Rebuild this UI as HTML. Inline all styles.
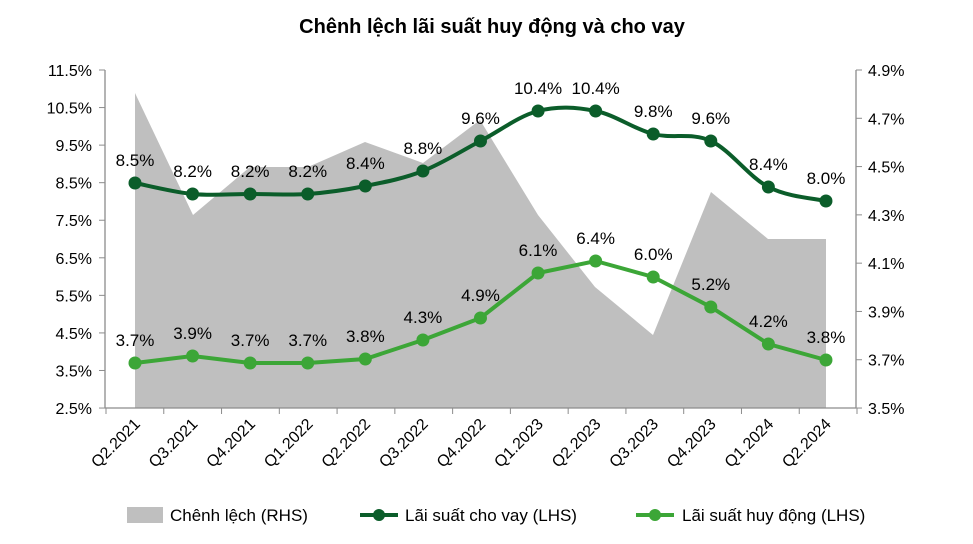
<!DOCTYPE html>
<html><head><meta charset="utf-8"><style>
body{margin:0;background:#fff;width:973px;height:539px;overflow:hidden}
svg text{font-family:"Liberation Sans",Arial,sans-serif;fill:#000}
</style></head><body>
<svg id="s" width="973" height="539" xmlns="http://www.w3.org/2000/svg">
<text x="492" y="33" text-anchor="middle" font-size="20" font-weight="bold">Chênh lệch lãi suất huy động và cho vay</text>
<polygon fill="#bfbfbf" points="135,408 135,93 193,215 250,167 308,167 365,142 423,163 480,120 538,215 595,287 653,335 711,192 768,239 826,239 826,408"/>
<g stroke="#8c8c8c" stroke-width="1.3" fill="none">
<line x1="105" y1="70" x2="105" y2="408"/><line x1="856" y1="70" x2="856" y2="408"/><line x1="105" y1="408" x2="856" y2="408"/>
</g>
<g id="g"></g>
</svg>
<script>
var g=document.getElementById('g'),h='';
var xs=[];for(var i=0;i<13;i++)xs.push(135+i*57.58);
var cats=['Q2.2021','Q3.2021','Q4.2021','Q1.2022','Q2.2022','Q3.2022','Q4.2022','Q1.2023','Q2.2023','Q3.2023','Q4.2023','Q1.2024','Q2.2024'];
var L=['11.5%','10.5%','9.5%','8.5%','7.5%','6.5%','5.5%','4.5%','3.5%','2.5%'];
for(var i=0;i<10;i++){var y=70+i*37.56;h+='<line x1="99" y1="'+y+'" x2="105" y2="'+y+'" stroke="#8c8c8c"/><text x="92" y="'+(y+6)+'" text-anchor="end" font-size="16">'+L[i]+'</text>';}
var R=['4.9%','4.7%','4.5%','4.3%','4.1%','3.9%','3.7%','3.5%'];
for(var i=0;i<8;i++){var y=70+i*48.29;h+='<line x1="856" y1="'+y+'" x2="862" y2="'+y+'" stroke="#8c8c8c"/><text x="868" y="'+(y+6)+'" font-size="16">'+R[i]+'</text>';}
for(var i=0;i<=13;i++){var x=106+i*57.77;h+='<line x1="'+x+'" y1="408" x2="'+x+'" y2="414" stroke="#8c8c8c"/>';}
for(var i=0;i<13;i++){var x=xs[i]+6,y=425;h+='<text transform="translate('+x+','+y+') rotate(-45)" text-anchor="end" font-size="16">'+cats[i]+'</text>';}
var d=[183,194,194,194,186,171,141,111,111,134,141,187,201],dl=['8.5%','8.2%','8.2%','8.2%','8.4%','8.8%','9.6%','10.4%','10.4%','9.8%','9.6%','8.4%','8.0%'];
var l=[363,356,363,363,359,340,318,273,261,277,307,344,360],ll=['3.7%','3.9%','3.7%','3.7%','3.8%','4.3%','4.9%','6.1%','6.4%','6.0%','5.2%','4.2%','3.8%'];
function smooth(p){var s='M'+xs[0]+','+p[0];for(var i=0;i<p.length-1;i++){var x0=xs[Math.max(i-1,0)],y0=p[Math.max(i-1,0)],x1=xs[i],y1=p[i],x2=xs[i+1],y2=p[i+1],x3=xs[Math.min(i+2,p.length-1)],y3=p[Math.min(i+2,p.length-1)];var t=0.17;s+=' C'+(x1+(x2-x0)*t)+','+(y1+(y2-y0)*t)+' '+(x2-(x3-x1)*t)+','+(y2-(y3-y1)*t)+' '+x2+','+y2;}return s;}
function lin(p){return 'M'+p.map(function(v,i){return xs[i]+','+v}).join(' L');}
h+='<path d="'+smooth(d)+'" stroke="#0b5d2a" stroke-width="4" fill="none"/>';
h+='<path d="'+lin(l)+'" stroke="#3ca637" stroke-width="4" fill="none"/>';
for(var i=0;i<13;i++){h+='<circle cx="'+xs[i]+'" cy="'+d[i]+'" r="6.5" fill="#0b5d2a"/><circle cx="'+xs[i]+'" cy="'+l[i]+'" r="6.5" fill="#3ca637"/>';
h+='<text x="'+xs[i]+'" y="'+(d[i]-17)+'" text-anchor="middle" font-size="17">'+dl[i]+'</text>';
h+='<text x="'+xs[i]+'" y="'+(l[i]-17)+'" text-anchor="middle" font-size="17">'+ll[i]+'</text>';}
h+='<rect x="127" y="507" width="36" height="16" fill="#bfbfbf"/><text x="170" y="521" font-size="17">Chênh lệch (RHS)</text>';
h+='<line x1="360" y1="515" x2="398" y2="515" stroke="#0b5d2a" stroke-width="4"/><circle cx="379" cy="515" r="6" fill="#0b5d2a"/><text x="405" y="521" font-size="17">Lãi suất cho vay (LHS)</text>';
h+='<line x1="636" y1="515" x2="674" y2="515" stroke="#3ca637" stroke-width="4"/><circle cx="655" cy="515" r="6" fill="#3ca637"/><text x="682" y="521" font-size="17">Lãi suất huy động (LHS)</text>';
g.innerHTML=h;
</script>
</body></html>
